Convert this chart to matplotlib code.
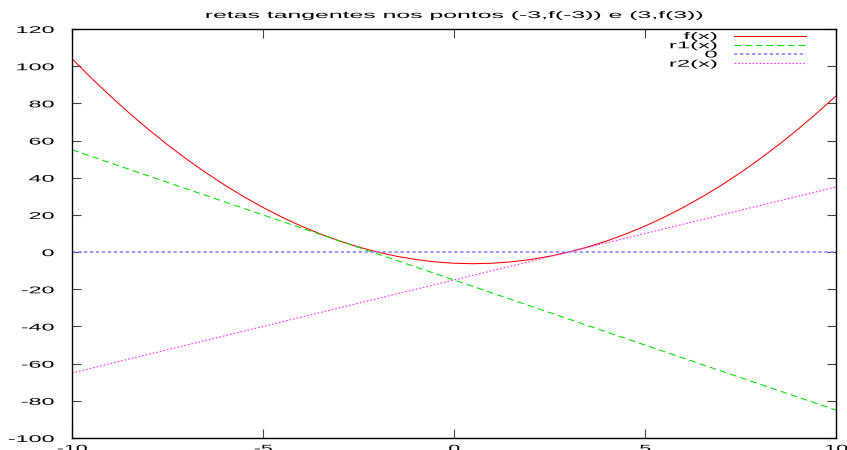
import matplotlib
matplotlib.use("Agg")
import matplotlib.pyplot as plt
from matplotlib.patheffects import AbstractPathEffect
from matplotlib.transforms import Affine2D

plt.rcParams['font.family'] = ['Liberation Sans', 'DejaVu Sans']
plt.rcParams['axes.unicode_minus'] = False
plt.rcParams['lines.scale_dashes'] = False

# ---- data ----
title = "retas tangentes nos pontos (-3,f(-3)) e (3,f(3))"
x_f = [-10, -9.5, -9, -8.5, -8, -7.5, -7, -6.5, -6, -5.5, -5, -4.5, -4, -3.5, -3,
       -2.5, -2, -1.5, -1, -0.5, 0, 0.5, 1, 1.5, 2, 2.5, 3, 3.5, 4, 4.5, 5, 5.5,
       6, 6.5, 7, 7.5, 8, 8.5, 9, 9.5, 10]
y_f = [104, 93.75, 84, 74.75, 66, 57.75, 50, 42.75, 36, 29.75, 24, 18.75, 14, 9.75, 6,
       2.75, 0, -2.25, -4, -5.25, -6, -6.25, -6, -5.25, -4, -2.25, 0, 2.75, 6, 9.75,
       14, 18.75, 24, 29.75, 36, 42.75, 50, 57.75, 66, 74.75, 84]
x_r1 = [-10, 10]
y_r1 = [55, -85]
x_zero = [-10, 10]
y_zero = [0, 0]
x_r2 = [-10, 10]
y_r2 = [-65, 35]
series_labels = ["f(x)", "r1(x)", "0", "r2(x)"]
xticks = [-10, -5, 0, 5, 10]
xtick_labels = ["-10", "-5", "0", "5", "10"]
yticks = [-100, -80, -60, -40, -20, 0, 20, 40, 60, 80, 100, 120]
ytick_labels = ["-100", "-80", "-60", "-40", "-20", "0", "20", "40", "60", "80", "100", "120"]


class Stretch(AbstractPathEffect):
    """Draw text glyphs stretched horizontally (gnuplot-like wide font)."""
    def __init__(self, sx=2.4, anchor=0.0):
        super().__init__()
        self.sx = sx
        self.anchor = anchor

    def draw_path(self, renderer, gc, tpath, affine, rgbFace=None):
        try:
            ext = tpath.get_extents()
            w = ext.x1
        except Exception:
            w = 0.0
        a = self.anchor * w
        t = Affine2D().translate(-a, 0).scale(self.sx, 1.0).translate(a, 0) + affine
        renderer.draw_path(gc, tpath, t, rgbFace)


FS = 7
fig = plt.figure(figsize=(8.47, 4.5), dpi=100)
ax = fig.add_axes([72 / 847, 12 / 450, (836 - 72) / 847, (438 - 29) / 450])

ax.plot(x_f, y_f, color='#ff0000', lw=0.75, label=series_labels[0])
ax.plot(x_r1, y_r1, color='#00e000', lw=0.75, dashes=(4.8, 2.9), label=series_labels[1])
ax.plot(x_zero, y_zero, color='#8888ff', lw=1.2, dashes=(2.4, 1.9), label=series_labels[2])
ax.plot(x_r2, y_r2, color='#ff33ff', lw=0.8, dashes=(1.2, 1.4), label=series_labels[3])

ax.set_xlim(-10, 10)
ax.set_ylim(-100, 120)
ax.set_xticks(xticks)
ax.set_xticklabels(xtick_labels)
ax.set_yticks(yticks)
ax.set_yticklabels(ytick_labels)
ax.tick_params(direction='in', length=6.5, width=0.8, color='#444444',
               top=True, right=True, labelsize=FS)
ax.tick_params(axis='y', pad=13)
ax.tick_params(axis='x', pad=4)
for s in ax.spines.values():
    s.set_linewidth(1.0)
    s.set_color('black')

for t in ax.get_xticklabels():
    t.set_path_effects([Stretch(2.2, 0.5)])
for t in ax.get_yticklabels():
    t.set_path_effects([Stretch(2.4, 1.0)])

leg = ax.legend(loc='upper right', bbox_to_anchor=((806 - 72) / 764, (438 - 31) / 409),
                frameon=False, markerfirst=False, fontsize=FS, handlelength=7.4,
                handletextpad=1.75, labelspacing=-0.08, borderpad=0, borderaxespad=0)
for t in leg.get_texts():
    t.set_path_effects([Stretch(2.45, 1.0)])

fig.text(454 / 847, 1 - 18 / 450, title, ha='center', va='baseline', fontsize=FS,
         path_effects=[Stretch(2.55, 0.5)])

fig.savefig("out.png", dpi=100)
